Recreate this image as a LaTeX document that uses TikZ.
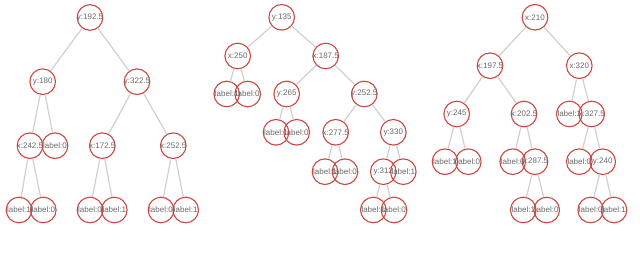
\documentclass[tikz,border=0pt]{standalone}
\usepackage{fontspec}
\setmainfont{Liberation Sans}
\usepackage{xcolor}
\usepackage{tikz}
\definecolor{NodeRed}{RGB}{202, 72, 66}
\definecolor{EdgeGray}{RGB}{208, 208, 208}
\definecolor{LabelGray}{RGB}{105, 105, 105}
\tikzset{
    treenode/.style={circle, draw=NodeRed, line width=1.1pt, minimum size=25.6pt, inner sep=-4pt, text=LabelGray, font=\fontsize{8}{9}\selectfont},
    treeedge/.style={draw=EdgeGray, line width=1.2pt},
}

\begin{document}
\begin{tikzpicture}[x=1pt, y=-1pt]
            \useasboundingbox (0,0) rectangle (640,261);
            % first tree
            \node[treenode] (a0) at (90,17.5) {y:192.5};
            \node[treenode] (a1) at (42.7,81.7) {y:180};
            \node[treenode] (a2) at (137,81.7) {y:322.5};
            \node[treenode] (a3) at (30,145.7) {x:242.5};
            \node[treenode] (a4) at (55,145.7) {label:0};
            \node[treenode] (a5) at (102.3,145.7) {x:172.5};
            \node[treenode] (a6) at (173.3,145.7) {x:252.5};
            \node[treenode] (a7) at (19,210) {label:1};
            \node[treenode] (a8) at (43.3,210) {label:0};
            \node[treenode] (a9) at (90,210) {label:0};
            \node[treenode] (a10) at (114.3,210) {label:1};
            \node[treenode] (a11) at (161,210) {label:0};
            \node[treenode] (a12) at (185.7,210) {label:1};
            \draw[treeedge] (a0) -- (a1); \draw[treeedge] (a0) -- (a2);
            \draw[treeedge] (a1) -- (a3); \draw[treeedge] (a1) -- (a4);
            \draw[treeedge] (a2) -- (a5); \draw[treeedge] (a2) -- (a6);
            \draw[treeedge] (a3) -- (a7); \draw[treeedge] (a3) -- (a8);
            \draw[treeedge] (a5) -- (a9); \draw[treeedge] (a5) -- (a10);
            \draw[treeedge] (a6) -- (a11); \draw[treeedge] (a6) -- (a12);
            % second tree
            \node[treenode] (b0) at (281.7,17.3) {y:135};
            \node[treenode] (b1) at (237.7,56) {x:250};
            \node[treenode] (b2) at (325.7,56) {x:187.5};
            \node[treenode] (b3) at (226.7,94) {label:1};
            \node[treenode] (b4) at (247.7,94) {label:0};
            \node[treenode] (b5) at (286.7,94) {y:265};
            \node[treenode] (b6) at (364.3,94) {y:252.5};
            \node[treenode] (b7) at (276,132.3) {label:1};
            \node[treenode] (b8) at (296.7,132.3) {label:0};
            \node[treenode] (b9) at (335.7,132.3) {x:277.5};
            \node[treenode] (b10) at (393.3,132.3) {y:330};
            \node[treenode] (b11) at (325,171.7) {label:1};
            \node[treenode] (b12) at (345,171.7) {label:0};
            \node[treenode] (b13) at (383.3,171.7) {y:312};
            \node[treenode] (b14) at (403.3,171.7) {label:1};
            \node[treenode] (b15) at (373.3,210) {label:1};
            \node[treenode] (b16) at (394,210) {label:0};
            \draw[treeedge] (b0) -- (b1); \draw[treeedge] (b0) -- (b2);
            \draw[treeedge] (b1) -- (b3); \draw[treeedge] (b1) -- (b4);
            \draw[treeedge] (b2) -- (b5); \draw[treeedge] (b2) -- (b6);
            \draw[treeedge] (b5) -- (b7); \draw[treeedge] (b5) -- (b8);
            \draw[treeedge] (b6) -- (b9); \draw[treeedge] (b6) -- (b10);
            \draw[treeedge] (b9) -- (b11); \draw[treeedge] (b9) -- (b12);
            \draw[treeedge] (b10) -- (b13); \draw[treeedge] (b10) -- (b14);
            \draw[treeedge] (b13) -- (b15); \draw[treeedge] (b13) -- (b16);
            % third tree
            \node[treenode] (c0) at (535,17.3) {x:210};
            \node[treenode] (c1) at (490,65.7) {x:197.5};
            \node[treenode] (c2) at (579.3,65.7) {x:320};
            \node[treenode] (c3) at (456.7,114) {y:245};
            \node[treenode] (c4) at (524,114) {x:202.5};
            \node[treenode] (c5) at (569.3,114) {label:1};
            \node[treenode] (c6) at (591.7,114) {x:327.5};
            \node[treenode] (c7) at (445,161.7) {label:1};
            \node[treenode] (c8) at (468.3,161.7) {label:0};
            \node[treenode] (c9) at (512.7,161.7) {label:0};
            \node[treenode] (c10) at (535,161.7) {y:287.5};
            \node[treenode] (c11) at (579.3,161.7) {label:0};
            \node[treenode] (c12) at (602.7,161.7) {y:240};
            \node[treenode] (c13) at (523.3,210) {label:1};
            \node[treenode] (c14) at (546.7,210) {label:0};
            \node[treenode] (c15) at (590.7,210) {label:0};
            \node[treenode] (c16) at (614,210) {label:1};
            \draw[treeedge] (c0) -- (c1); \draw[treeedge] (c0) -- (c2);
            \draw[treeedge] (c1) -- (c3); \draw[treeedge] (c1) -- (c4);
            \draw[treeedge] (c2) -- (c5); \draw[treeedge] (c2) -- (c6);
            \draw[treeedge] (c3) -- (c7); \draw[treeedge] (c3) -- (c8);
            \draw[treeedge] (c4) -- (c9); \draw[treeedge] (c4) -- (c10);
            \draw[treeedge] (c6) -- (c11); \draw[treeedge] (c6) -- (c12);
            \draw[treeedge] (c10) -- (c13); \draw[treeedge] (c10) -- (c14);
            \draw[treeedge] (c12) -- (c15); \draw[treeedge] (c12) -- (c16);
        \end{tikzpicture}
\end{document}
